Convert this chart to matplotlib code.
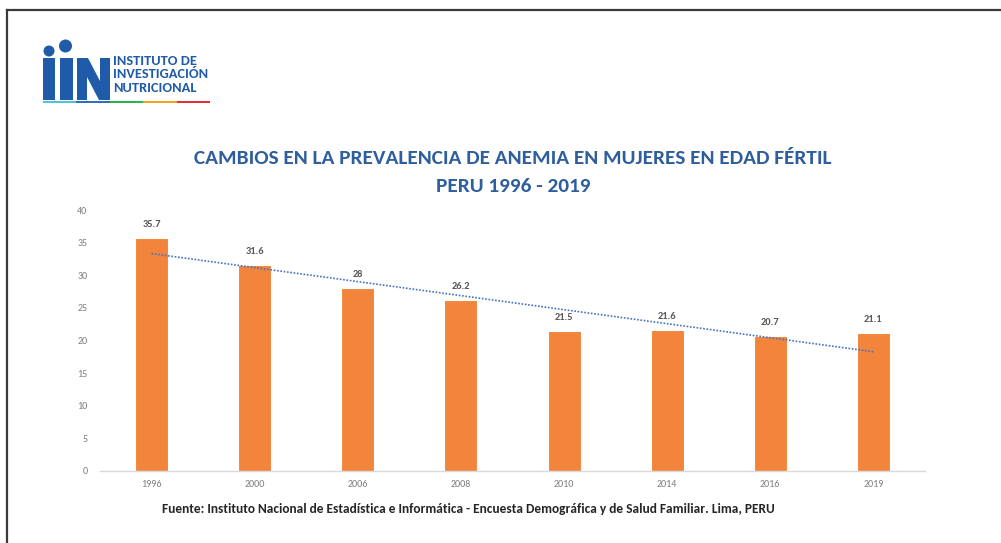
import numpy as np
import matplotlib
matplotlib.use("Agg")
import matplotlib.pyplot as plt
from matplotlib import font_manager
from matplotlib.patches import Circle, Rectangle, Polygon

# --- data -------------------------------------------------------------
years = ["1996", "2000", "2006", "2008", "2010", "2014", "2016", "2019"]
anemia = [35.7, 31.6, 28, 26.2, 21.5, 21.6, 20.7, 21.1]
value_labels = ["35.7", "31.6", "28", "26.2", "21.5", "21.6", "20.7", "21.1"]
y_ticks = [0, 5, 10, 15, 20, 25, 30, 35, 40]

title_lines = ["CAMBIOS EN LA PREVALENCIA DE ANEMIA EN MUJERES EN EDAD FÉRTIL",
               "PERU 1996 - 2019"]
source_text = ("Fuente: Instituto Nacional de Estadística e Informática - "
               "Encuesta Demográfica y de Salud Familiar. Lima, PERU")
logo_lines = ["INSTITUTO DE", "INVESTIGACIÓN", "NUTRICIONAL"]


def pick_font(candidates):
    names = {f.name for f in font_manager.fontManager.ttflist}
    for c in candidates:
        if c in names:
            return c
    return "DejaVu Sans"


title_font = pick_font(["Carlito", "Liberation Sans Narrow", "Lato"])
body_font = pick_font(["Carlito", "Lato", "Open Sans"])
narrow_font = pick_font(["Liberation Sans Narrow", "Carlito", "Liberation Sans"])

W, H = 1001, 543
fig = plt.figure(figsize=(W / 100, H / 100), dpi=100)
fig.patch.set_facecolor("white")

# --- main bar chart -------------------------------------------------------
ax_left, ax_right, ax_top, ax_bottom = 100, 925, 210, 471
ax = fig.add_axes([ax_left / W, (H - ax_bottom) / H,
                   (ax_right - ax_left) / W, (ax_bottom - ax_top) / H])

x = np.arange(len(years))
ax.bar(x, anemia, width=0.32, color="#F2843C", edgecolor="white",
       linewidth=0.8, zorder=2)

# linear trend line over the category positions
coef = np.polyfit(x, anemia, 1)
ax.plot(x, np.polyval(coef, x), linestyle=(0, (1, 1)), color="#4472C4",
        linewidth=1.2, zorder=3)

for xi, v, lab in zip(x, anemia, value_labels):
    ax.annotate(lab, (xi, v), xytext=(0, 6.5), textcoords="offset points",
                ha="center", va="bottom", fontsize=7.5, fontweight="bold",
                color="#595959", family=body_font)

ax.set_xlim(-0.5, len(years) - 0.5)
ax.set_ylim(0, 40)
ax.set_yticks(y_ticks)
ax.set_xticks(x)
ax.set_xticklabels(years)
for lab in ax.get_xticklabels() + ax.get_yticklabels():
    lab.set_fontsize(7.2)
    lab.set_color("#7F7F7F")
    lab.set_family(body_font)
ax.tick_params(axis="both", length=0)
ax.tick_params(axis="y", pad=9)
ax.tick_params(axis="x", pad=6.5)
for side in ("left", "right", "top"):
    ax.spines[side].set_visible(False)
ax.spines["bottom"].set_color("#D9D9D9")
ax.spines["bottom"].set_linewidth(1.0)

# --- overlay in pixel coordinates: frame, logo, titles ----------------
ov = fig.add_axes([0, 0, 1, 1], zorder=-1)
ov.set_xlim(0, W)
ov.set_ylim(H, 0)
ov.axis("off")

# frame (top and left edges)
ov.plot([7, W], [10, 10], color="#3A3A3A", linewidth=1.6)
ov.plot([7, 7], [10, H], color="#3A3A3A", linewidth=1.6)

blue = "#1F5BA8"
# two "i" glyphs
ov.add_patch(Rectangle((43, 58), 12, 42, facecolor=blue, edgecolor="none"))
ov.add_patch(Circle((49, 51), 5.5, facecolor=blue, edgecolor="none"))
ov.add_patch(Rectangle((60, 58), 13, 42, facecolor=blue, edgecolor="none"))
ov.add_patch(Circle((65.5, 46), 6.5, facecolor=blue, edgecolor="none"))
# "N" glyph
ov.add_patch(Polygon([(77, 100), (77, 58), (88, 58), (100, 81), (100, 58),
                      (110, 58), (110, 100), (99, 100), (87, 77), (87, 100)],
                     closed=True, facecolor=blue, edgecolor="none"))
for i, line in enumerate(logo_lines):
    ov.text(113, 61 + 13.5 * i, line, ha="left", va="center", fontsize=10.4,
            fontweight="bold", color=blue, family=narrow_font)
# coloured strip under the logo
strip_colors = ["#4EC3E0", "#2F6FBF", "#2DB34A", "#F7A21B", "#E5303C"]
seg = (210 - 43) / len(strip_colors)
for i, c in enumerate(strip_colors):
    ov.add_patch(Rectangle((43 + i * seg, 100.5), seg, 2.5, facecolor=c,
                           edgecolor="none"))

# chart title, two centred lines
for y_pos, line in zip([159, 186], title_lines):
    ov.text(513, y_pos, line, ha="center", va="center", fontsize=15.3,
            fontweight="bold", color="#2E5E9E", family=title_font)

# source note
ov.text(468, 509, source_text, ha="center", va="center", fontsize=9.6,
        fontweight="bold", color="#262626", family=body_font)

fig.savefig("out.png", dpi=100, facecolor="white")
